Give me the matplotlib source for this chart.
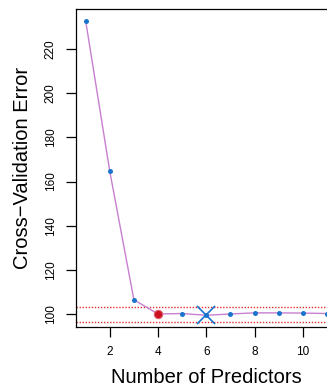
import numpy as np
import matplotlib.pyplot as plt

plt.rcParams['font.family'] = ['Liberation Sans', 'DejaVu Sans']

# Cross-validation error for each model size
n_predictors = [1, 2, 3, 4, 5, 6, 7, 8, 9, 10, 11]
cv_error = [232.7, 164.6, 106.5, 100.1, 100.3, 99.5, 100.1, 100.6, 100.6, 100.5, 100.3]

# One-standard-error band around the minimum
band_upper = 103.2
band_lower = 96.5
best_one_se = 4
best_min = 6

fig = plt.figure(figsize=(3.27, 3.87), dpi=100)
ax = fig.add_axes([0.2324, 0.155, 0.797, 0.8217])

blue = '#1874CD'
ax.plot(n_predictors, cv_error, color='#c97fd0', lw=1, zorder=2)
ax.plot(n_predictors, cv_error, 'o', color=blue, ms=3.6, mec='none', zorder=3)

ax.axhline(band_upper, color='#e03030', lw=1, ls=(0, (1, 1.2)), zorder=1)
ax.axhline(band_lower, color='#e03030', lw=1, ls=(0, (1, 1.2)), zorder=1)

i = n_predictors.index(best_one_se)
ax.plot(best_one_se, cv_error[i], 'o', color='#cc1020', ms=6, mec='#e06070', mew=0.8, zorder=4)
j = n_predictors.index(best_min)
ax.plot(best_min, cv_error[j], 'x', color=blue, ms=13, mew=1.2, zorder=4)

ax.set_xlim(0.6, 11.4)
ax.set_ylim(94.2, 238.0)
ax.set_xticks([2, 4, 6, 8, 10])
ax.set_yticks([100, 120, 140, 160, 180, 200, 220])
ax.tick_params(labelsize=8.5, length=7, width=0.9, pad=7)
for lab in ax.get_yticklabels():
    lab.set_rotation(90)
    lab.set_va('center')

for s in ax.spines.values():
    s.set_linewidth(0.9)

ax.set_xlabel('Number of Predictors', fontsize=14.5, labelpad=7)
ax.set_ylabel('Cross\u2212Validation Error', fontsize=14.5, labelpad=9)

fig.savefig('out.png', dpi=100)
